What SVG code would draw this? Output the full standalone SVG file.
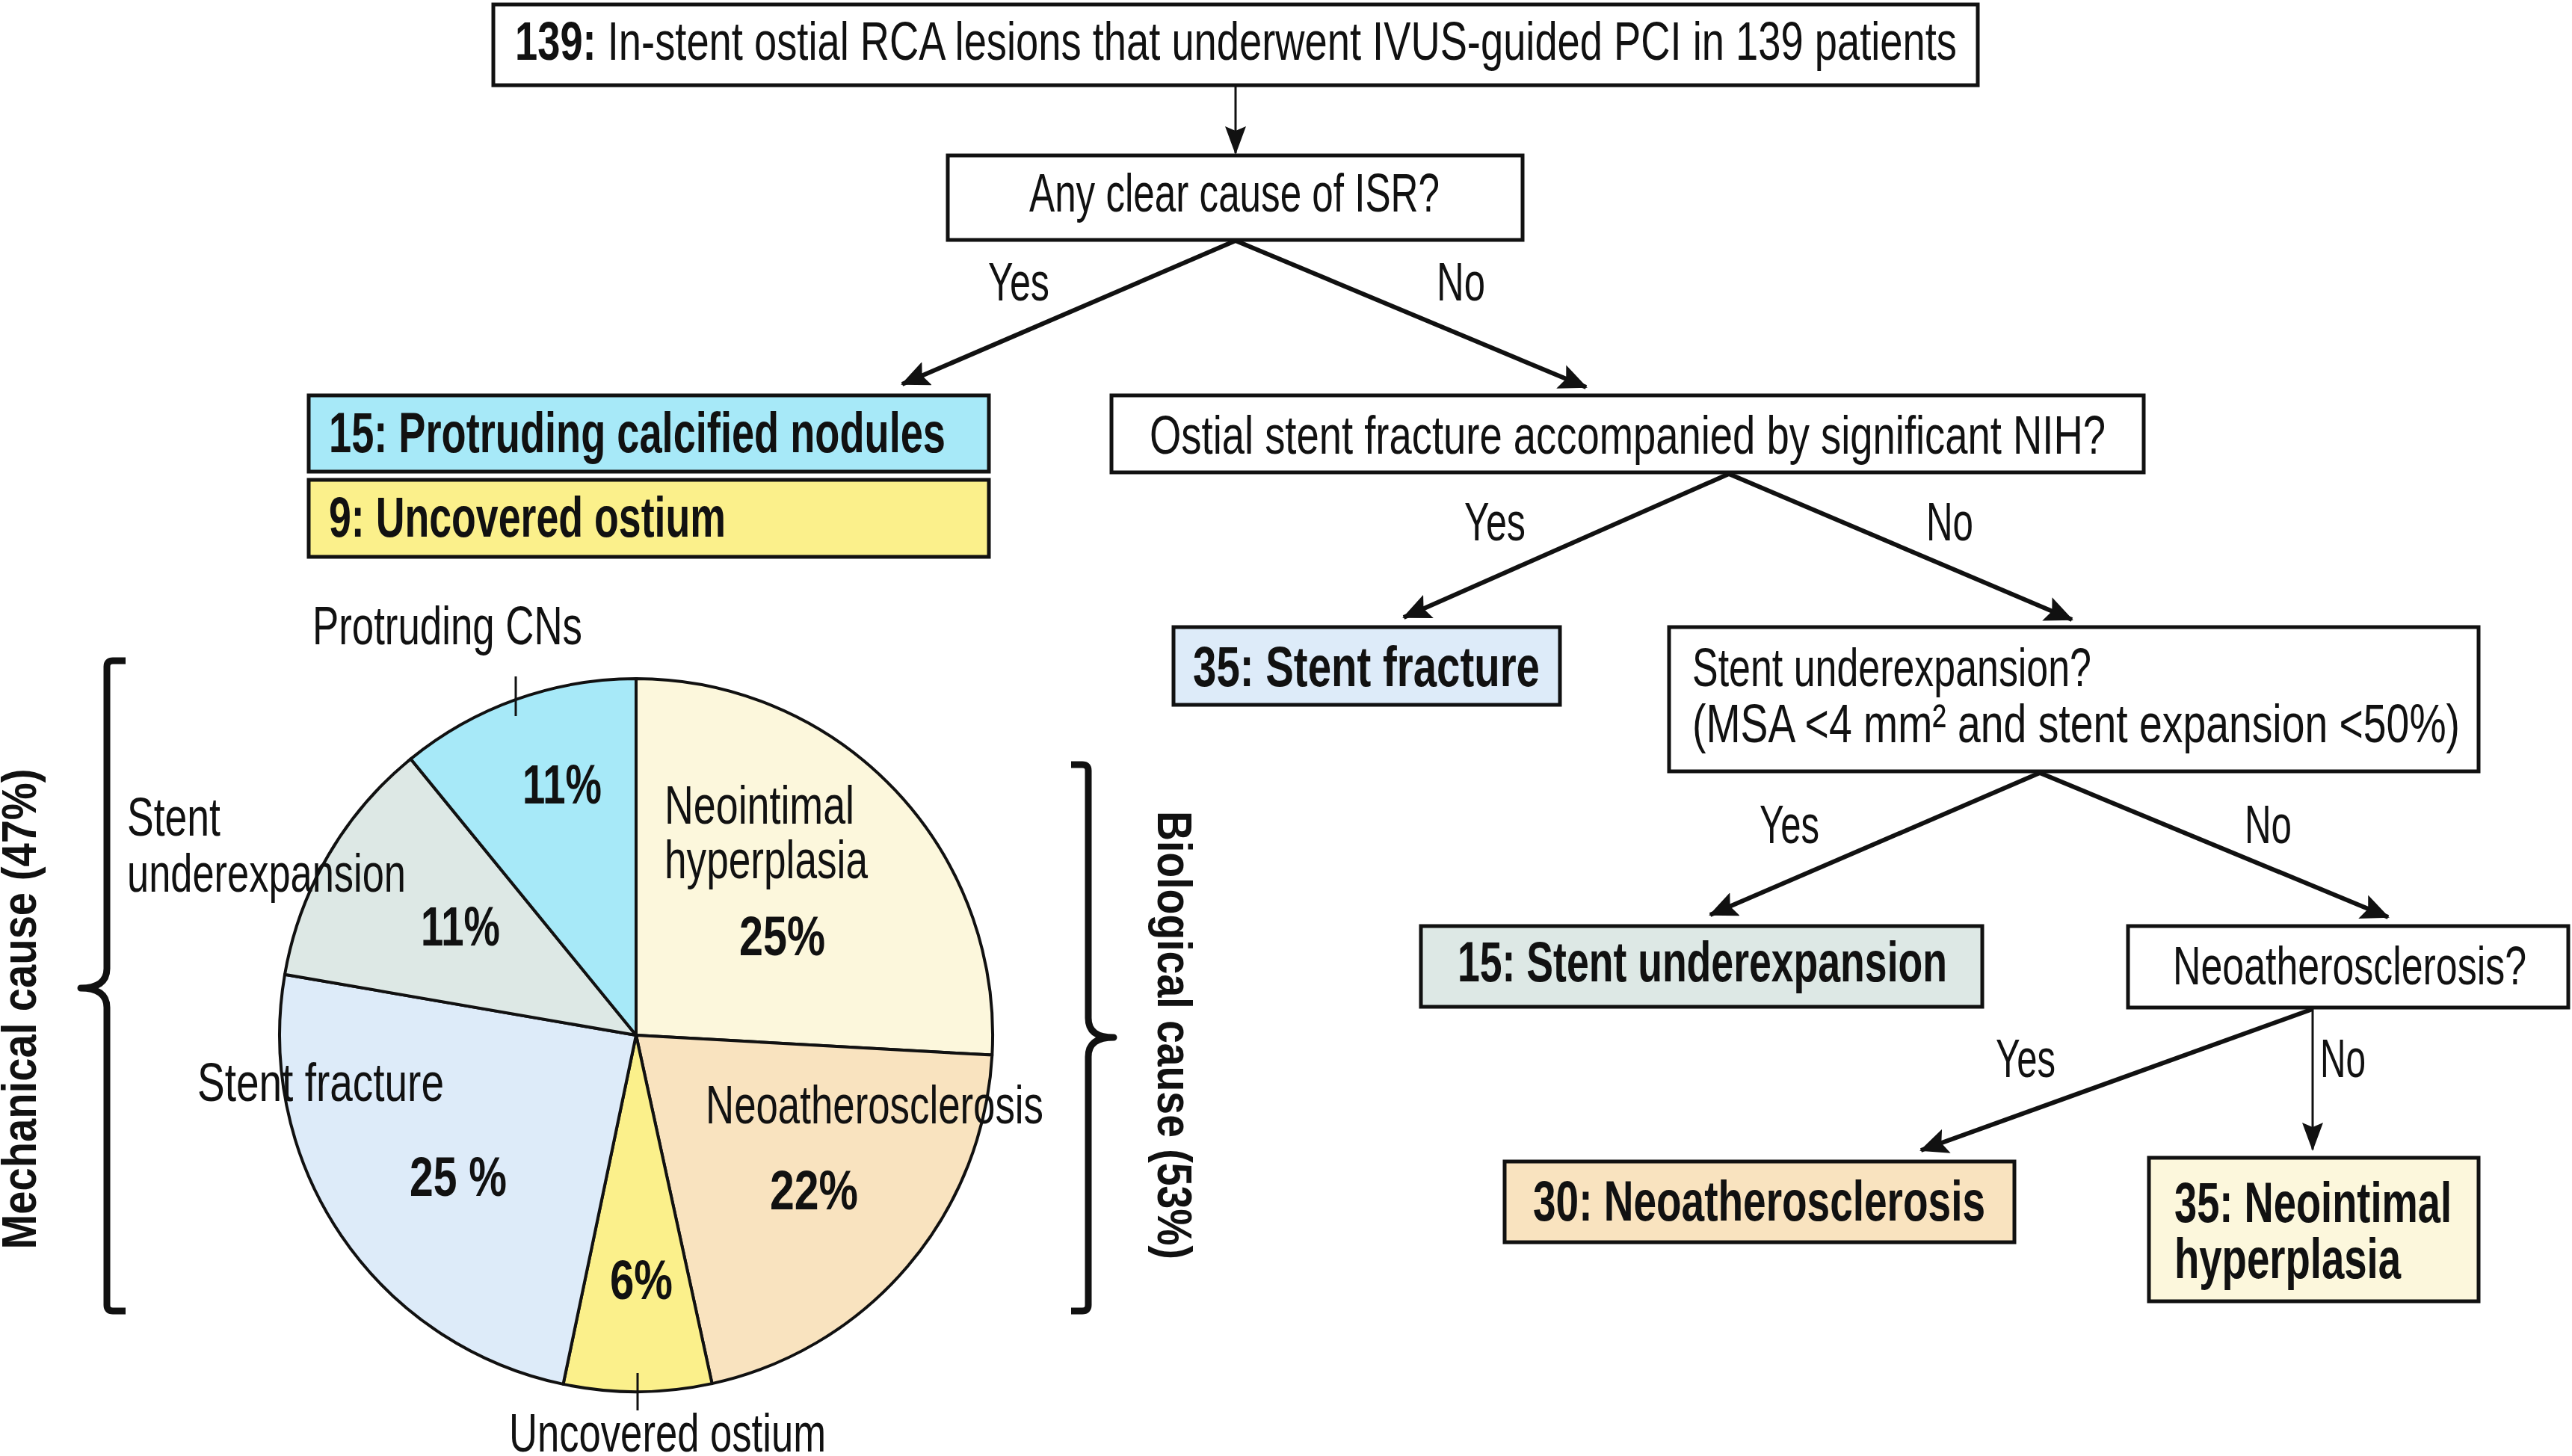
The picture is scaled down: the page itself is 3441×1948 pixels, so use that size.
<svg xmlns="http://www.w3.org/2000/svg" width="3441" height="1948" viewBox="0 0 3441 1948">
<style>
.t{font-family:"Liberation Sans Narrow","Liberation Sans",Arial,sans-serif;font-size:72px;fill:#111;}
.b{font-family:"Liberation Sans Narrow","Liberation Sans",Arial,sans-serif;font-size:76px;font-weight:bold;fill:#111;}
.p{font-family:"Liberation Sans Narrow","Liberation Sans",Arial,sans-serif;font-size:74px;font-weight:bold;fill:#111;}
.side{font-family:"Liberation Sans","Arial",sans-serif;font-size:64px;font-weight:bold;fill:#111;}
.box{stroke:#111;stroke-width:5;}
.w{fill:#fff;}
.arr{stroke:#111;stroke-width:6;fill:none;marker-end:url(#ah);}
.arrt{stroke:#111;stroke-width:3;fill:none;marker-end:url(#ah2);}
.sl{stroke:#111;stroke-width:4;stroke-linejoin:round;}
.brace{stroke:#111;stroke-width:9;fill:none;stroke-linejoin:round;stroke-linecap:butt;}
.tick{stroke:#111;stroke-width:3;}
</style>
<defs>
<marker id="ah" markerUnits="userSpaceOnUse" markerWidth="40" markerHeight="34" refX="36" refY="17" orient="auto">
<path d="M0,0 L38,17 L0,34 L7,17 Z" fill="#111"/>
</marker>
<marker id="ah2" markerUnits="userSpaceOnUse" markerWidth="40" markerHeight="34" refX="36" refY="17" orient="auto">
<path d="M0,3 L38,17 L0,31 L6,17 Z" fill="#111"/>
</marker>
</defs>
<rect width="3441" height="1948" fill="#fff"/>

<g id="connectors">
<line class="arrt" x1="1653" y1="114" x2="1653" y2="205"/>
<line class="arr" x1="1653" y1="322" x2="1207" y2="514"/>
<line class="arr" x1="1653" y1="322" x2="2122" y2="518"/>
<line class="arr" x1="2313" y1="634" x2="1878" y2="826"/>
<line class="arr" x1="2313" y1="634" x2="2772" y2="829"/>
<line class="arr" x1="2729" y1="1034" x2="2288" y2="1224"/>
<line class="arr" x1="2729" y1="1034" x2="3195" y2="1227"/>
<line class="arr" x1="3094" y1="1350" x2="2570" y2="1539"/>
<line class="arrt" x1="3094" y1="1350" x2="3094" y2="1538"/>
<text class="t" x="1322" y="402" textLength="82" lengthAdjust="spacingAndGlyphs">Yes</text>
<text class="t" x="1922" y="402" textLength="65" lengthAdjust="spacingAndGlyphs">No</text>
<text class="t" x="1959" y="723" textLength="82" lengthAdjust="spacingAndGlyphs">Yes</text>
<text class="t" x="2577" y="723" textLength="63" lengthAdjust="spacingAndGlyphs">No</text>
<text class="t" x="2354" y="1128" textLength="80" lengthAdjust="spacingAndGlyphs">Yes</text>
<text class="t" x="3003" y="1128" textLength="63" lengthAdjust="spacingAndGlyphs">No</text>
<text class="t" x="2670" y="1441" textLength="80" lengthAdjust="spacingAndGlyphs">Yes</text>
<text class="t" x="3104" y="1441" textLength="61" lengthAdjust="spacingAndGlyphs">No</text>
</g>

<g id="n-top">
<rect class="box w" x="660" y="6" width="1986" height="108"/>
<text class="t" x="689" y="80" textLength="1929" lengthAdjust="spacingAndGlyphs"><tspan font-weight="bold">139:</tspan> In-stent ostial RCA lesions that underwent IVUS-guided PCI in 139 patients</text>
</g>

<g id="n-isr">
<rect class="box w" x="1268" y="208" width="769" height="113"/>
<text class="t" x="1377" y="283" textLength="549" lengthAdjust="spacingAndGlyphs">Any clear cause of ISR?</text>
</g>

<g id="n-cn">
<rect class="box" fill="#a7e9f8" x="413" y="529" width="910" height="102"/>
<text class="b" x="440" y="605" textLength="825" lengthAdjust="spacingAndGlyphs">15: Protruding calcified nodules</text>
</g>

<g id="n-uo">
<rect class="box" fill="#fbf08b" x="413" y="642" width="910" height="103"/>
<text class="b" x="440" y="718" textLength="531" lengthAdjust="spacingAndGlyphs">9: Uncovered ostium</text>
</g>

<g id="n-frac-q">
<rect class="box w" x="1487" y="529" width="1381" height="103"/>
<text class="t" x="1538" y="607" textLength="1279" lengthAdjust="spacingAndGlyphs">Ostial stent fracture accompanied by significant NIH?</text>
</g>

<g id="n-frac">
<rect class="box" fill="#ddebf9" x="1570" y="839" width="517" height="104"/>
<text class="b" x="1596" y="918" textLength="464" lengthAdjust="spacingAndGlyphs">35: Stent fracture</text>
</g>

<g id="n-ue-q">
<rect class="box w" x="2233" y="839" width="1083" height="193"/>
<text class="t" x="2264" y="918" textLength="534" lengthAdjust="spacingAndGlyphs">Stent underexpansion?</text>
<text class="t" x="2264" y="993" textLength="1027" lengthAdjust="spacingAndGlyphs">(MSA &lt;4 mm² and stent expansion &lt;50%)</text>
</g>

<g id="n-ue">
<rect class="box" fill="#dde8e5" x="1901" y="1239" width="751" height="108"/>
<text class="b" x="1950" y="1313" textLength="655" lengthAdjust="spacingAndGlyphs">15: Stent underexpansion</text>
</g>

<g id="n-neo-q">
<rect class="box w" x="2847" y="1239" width="589" height="109"/>
<text class="t" x="2907" y="1317" textLength="473" lengthAdjust="spacingAndGlyphs">Neoatherosclerosis?</text>
</g>

<g id="n-neo">
<rect class="box" fill="#f9e3bf" x="2013" y="1554" width="682" height="108"/>
<text class="b" x="2051" y="1633" textLength="605" lengthAdjust="spacingAndGlyphs">30: Neoatherosclerosis</text>
</g>

<g id="n-nih">
<rect class="box" fill="#fcf7dc" x="2875" y="1549" width="441" height="192"/>
<text class="b" x="2909" y="1635" textLength="371" lengthAdjust="spacingAndGlyphs">35: Neointimal</text>
<text class="b" x="2909" y="1710" textLength="303" lengthAdjust="spacingAndGlyphs">hyperplasia</text>
</g>

<g id="pie">
<path class="sl" fill="#fcf7dc" d="M851,1385 L851,908 A477,477 0 0 1 1327.3,1411.6 Z"/>
<path class="sl" fill="#f9e3bf" d="M851,1385 L1327.3,1411.6 A477,477 0 0 1 952.6,1851.1 Z"/>
<path class="sl" fill="#fbf08b" d="M851,1385 L952.6,1851.1 A477,477 0 0 1 753.5,1851.9 Z"/>
<path class="sl" fill="#ddebf9" d="M851,1385 L753.5,1851.9 A477,477 0 0 1 381,1303.8 Z"/>
<path class="sl" fill="#dde8e5" d="M851,1385 L381,1303.8 A477,477 0 0 1 549.5,1015.4 Z"/>
<path class="sl" fill="#a7e9f8" d="M851,1385 L549.5,1015.4 A477,477 0 0 1 851,908 Z"/>
<line class="tick" x1="690" y1="905" x2="690" y2="958"/>
<line class="tick" x1="853" y1="1837" x2="853" y2="1887"/>
<text class="t" x="418" y="862" textLength="361" lengthAdjust="spacingAndGlyphs">Protruding CNs</text>
<text class="p" x="699" y="1075" textLength="106" lengthAdjust="spacingAndGlyphs">11%</text>
<text class="t" x="170" y="1118" textLength="125" lengthAdjust="spacingAndGlyphs">Stent</text>
<text class="t" x="170" y="1193" textLength="373" lengthAdjust="spacingAndGlyphs">underexpansion</text>
<text class="p" x="563" y="1265" textLength="106" lengthAdjust="spacingAndGlyphs">11%</text>
<text class="t" x="889" y="1102" textLength="254" lengthAdjust="spacingAndGlyphs">Neointimal</text>
<text class="t" x="889" y="1175" textLength="272" lengthAdjust="spacingAndGlyphs">hyperplasia</text>
<text class="p" x="989" y="1278" textLength="115" lengthAdjust="spacingAndGlyphs">25%</text>
<text class="t" x="264" y="1473" textLength="330" lengthAdjust="spacingAndGlyphs">Stent fracture</text>
<text class="p" x="548" y="1600" textLength="130" lengthAdjust="spacingAndGlyphs">25 %</text>
<text class="t" x="944" y="1503" textLength="452" lengthAdjust="spacingAndGlyphs">Neoatherosclerosis</text>
<text class="p" x="1030" y="1618" textLength="118" lengthAdjust="spacingAndGlyphs">22%</text>
<text class="p" x="816" y="1738" textLength="84" lengthAdjust="spacingAndGlyphs">6%</text>
<text class="t" x="681" y="1942" textLength="424" lengthAdjust="spacingAndGlyphs">Uncovered ostium</text>
</g>

<g id="mechanical">
<path class="brace" d="M168,884 L151,884 Q143,884 143,892 L143,1296 C143,1314 130,1322 108,1322 C130,1322 143,1330 143,1348 L143,1746 Q143,1754 151,1754 L168,1754"/>
<text class="side" transform="translate(48,1350) rotate(-90)" x="0" y="0" text-anchor="middle" textLength="643" lengthAdjust="spacingAndGlyphs">Mechanical cause (47%)</text>
</g>

<g id="biological">
<path class="brace" d="M1433,1023 L1448,1023 Q1456,1023 1456,1031 L1456,1362 C1456,1380 1468,1388 1490,1388 C1468,1388 1456,1396 1456,1414 L1456,1746 Q1456,1754 1448,1754 L1433,1754"/>
<text class="side" transform="translate(1549,1385) rotate(90)" x="0" y="0" text-anchor="middle" textLength="600" lengthAdjust="spacingAndGlyphs">Biological cause (53%)</text>
</g>
</svg>
